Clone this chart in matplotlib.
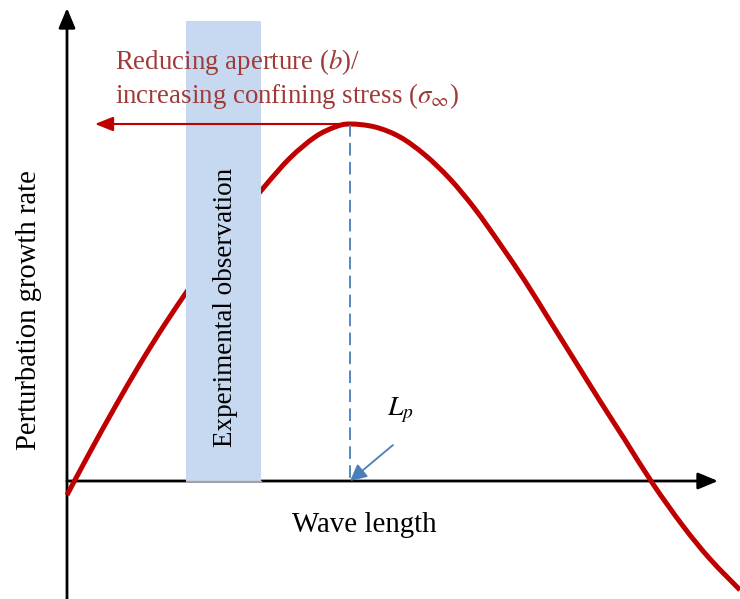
import numpy as np
import matplotlib.pyplot as plt
from matplotlib.path import Path
from matplotlib.patches import PathPatch

plt.rcParams['font.family'] = ['Liberation Serif', 'DejaVu Serif']
plt.rcParams['mathtext.fontset'] = 'stix'

### Data (schematic, read in picture coordinates) ###
# growth-rate curve
curve_x = [67, 90, 115, 140, 165, 190, 215, 240, 265, 290, 315, 335, 350,
           375, 400, 425, 450, 475, 500, 525, 550, 575, 600, 625, 653, 683, 710, 740]
curve_y = [495, 452, 407, 364, 324, 287, 251, 217, 186, 158, 137, 127, 124,
           127, 137, 155, 179, 209, 244, 281, 321, 361, 401, 440, 484, 526, 559, 590]

# axes origin / ends
origin = (67, 481)
x_tip = 718
y_tip = 8
y_bottom = 599

# experimental observation band
band_x = (186, 261)
band_y = (21, 481)

# peak (L_p) and shift arrow
peak = (350, 124)
shift_tip = 95

# colours
curve_col = '#C00000'
text_red = '#9E3A38'
band_col = '#C6D9F0'
blue = '#4A7EBB'


def smooth_path(xs, ys):
    # Catmull-Rom through the read points, drawn as cubic Bezier segments
    p = np.column_stack([xs, ys]).astype(float)
    p = np.vstack([p[0], p, p[-1]])
    verts = [p[1]]
    codes = [Path.MOVETO]
    for i in range(1, len(p) - 2):
        c1 = p[i] + (p[i + 1] - p[i - 1]) / 6
        c2 = p[i + 1] - (p[i + 2] - p[i]) / 6
        verts += [c1, c2, p[i + 1]]
        codes += [Path.CURVE4] * 3
    return Path(verts, codes)


fig = plt.figure(figsize=(7.40, 5.99), dpi=100)
ax = fig.add_axes([0, 0, 1, 1])
ax.set_xlim(0, 740)
ax.set_ylim(599, 0)
ax.axis('off')

# axes with arrows
ax.annotate('', xy=(x_tip, origin[1]), xytext=(origin[0], origin[1]),
            arrowprops=dict(arrowstyle='-|>,head_length=0.6,head_width=0.25', lw=2,
                            color='black', shrinkA=0, shrinkB=0, mutation_scale=20), zorder=2)
ax.annotate('', xy=(origin[0], y_tip), xytext=(origin[0], y_bottom),
            arrowprops=dict(arrowstyle='-|>,head_length=0.6,head_width=0.25', lw=2,
                            color='black', shrinkA=0, shrinkB=0, mutation_scale=20), zorder=2)

# curve
ax.add_patch(PathPatch(smooth_path(curve_x, curve_y), fill=False, edgecolor=curve_col,
                       lw=3.6, capstyle='butt', zorder=3))

# band (drawn above the curve)
ax.fill_between(band_x, band_y[0], band_y[1], color=band_col, lw=0, zorder=4)
ax.plot(band_x, [band_y[1], band_y[1]], color='#A6A6A6', lw=1, zorder=4)
ax.text(sum(band_x) / 2 + 2, 307, 'Experimental observation', rotation=90, ha='center',
        va='center', fontsize=19.5, color='black', zorder=6)

# peak dashed line
ax.plot([peak[0], peak[0]], [peak[1], origin[1]], color=blue, lw=1.3,
        dashes=(7, 3.5), zorder=5)

# shift arrow
ax.annotate('', xy=(shift_tip, peak[1]), xytext=(peak[0], peak[1]),
            arrowprops=dict(arrowstyle='-|>,head_length=0.55,head_width=0.22', lw=1.5,
                            color=curve_col, shrinkA=0, shrinkB=0, mutation_scale=20), zorder=6)
ax.text(115, 62, 'Reducing aperture ($b$)/', ha='left', va='center', fontsize=19.4,
        color=text_red, zorder=6)
ax.text(115, 96, r'increasing confining stress ($\sigma_\infty$)', ha='left', va='center',
        fontsize=19.4, color=text_red, zorder=6)

# L_p annotation
ax.annotate('', xy=(peak[0], origin[1]), xytext=(393, 445),
            arrowprops=dict(arrowstyle='-|>,head_length=0.5,head_width=0.25', lw=1.3,
                            color=blue, shrinkA=0, shrinkB=0, mutation_scale=20), zorder=6)
ax.text(400, 410, '$L_p$', ha='center', va='center', fontsize=20, zorder=6)

# axis labels
ax.text(364, 525, 'Wave length', ha='center', va='center', fontsize=20.8)
ax.text(29, 310, 'Perturbation growth rate', rotation=90, ha='center', va='center',
        fontsize=20.6)

fig.savefig('out.png', dpi=100)
